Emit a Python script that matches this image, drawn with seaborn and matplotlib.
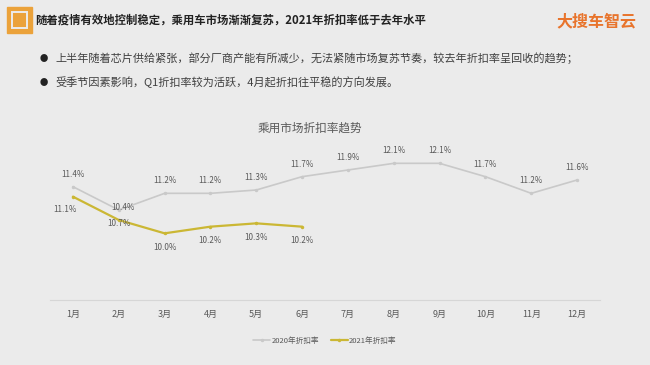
import numpy as np
import pandas as pd
import matplotlib
matplotlib.use("Agg")
import matplotlib.pyplot as plt
from matplotlib.patches import Rectangle
import seaborn as sns

# ---- data ----
months = ["1月", "2月", "3月", "4月", "5月", "6月",
          "7月", "8月", "9月", "10月", "11月", "12月"]
rate_2020 = [11.4, 10.7, 11.2, 11.2, 11.3, 11.7, 11.9, 12.1, 12.1, 11.7, 11.2, 11.6]
rate_2021 = [11.1, 10.4, 10.0, 10.2, 10.3, 10.2]
series_names = ["2020年折扣率", "2021年折扣率"]

header = "随着疫情有效地控制稳定，乘用车市场渐渐复苏，2021年折扣率低于去年水平"
bullets = [
    "上半年随着芯片供给紧张，部分厂商产能有所减少，无法紧随市场复苏节奏，较去年折扣率呈回收的趋势；",
    "受季节因素影响，Q1折扣率较为活跃，4月起折扣往平稳的方向发展。",
]
chart_title = "乘用市场折扣率趋势"
logo = "大搜车智云"

BG = "#ebebeb"
GRAY = "#c9c9c9"
YELLOW = "#cbb734"
TXT = "#595959"

sns.set_theme(style="white")
plt.rcParams["font.family"] = ["Noto Sans CJK SC", "DejaVu Sans"]

df = pd.DataFrame({
    "month": list(range(1, 13)) + list(range(1, len(rate_2021) + 1)),
    "rate": rate_2020 + rate_2021,
    "series": [series_names[0]] * 12 + [series_names[1]] * len(rate_2021),
})

fig = plt.figure(figsize=(6.5, 3.65), dpi=100, facecolor=BG)
ax = fig.add_axes([50 / 650, 65 / 365, 550 / 650, 160 / 365], facecolor=BG)

sns.lineplot(data=df, x="month", y="rate", hue="series",
             palette={series_names[0]: GRAY, series_names[1]: YELLOW},
             marker="o", markersize=2.5, markeredgewidth=0, ax=ax)
for ln, lw in zip(ax.lines, [1.2, 1.6]):
    ln.set_linewidth(lw)

ax.set_xlim(0.5, 12.5)
ax.set_ylim(8.0, 12.8)
ax.set_xticks(range(1, 13))
ax.set_xticklabels(months, fontsize=6.5, color=TXT)
ax.set_yticks([])
ax.set_xlabel("")
ax.set_ylabel("")
ax.tick_params(axis="x", length=0, pad=7)
for s in ["top", "left", "right"]:
    ax.spines[s].set_visible(False)
ax.spines["bottom"].set_color("#d6d6d6")
ax.spines["bottom"].set_linewidth(0.8)

# data labels (offsets in points)
off_2020 = [(0, 9)] * 12
off_2020[1] = (0, -10)
off_2021 = [(-6, -9), (3, 9), (0, -10), (0, -10), (0, -10), (0, -10)]
for i, v in enumerate(rate_2020):
    ax.annotate(f"{v:.1f}%", (i + 1, v), xytext=off_2020[i], textcoords="offset points",
                ha="center", va="center", fontsize=5.8, color=TXT)
for i, v in enumerate(rate_2021):
    ax.annotate(f"{v:.1f}%", (i + 1, v), xytext=off_2021[i], textcoords="offset points",
                ha="center", va="center", fontsize=5.8, color=TXT)

ax.get_legend().remove()
handles = ax.lines[:2]
fig.legend(handles, series_names, loc="center", bbox_to_anchor=(325 / 650, 1 - 341 / 365),
           ncol=2, frameon=False, fontsize=5.5, handlelength=2.2, handletextpad=0.2,
           columnspacing=1.5, labelcolor=TXT)

fig.text(310 / 650, 1 - 128 / 365, chart_title, ha="center", va="center",
         fontsize=8.4, color=TXT)

# header
fig.patches.append(Rectangle((7 / 650, 1 - 33 / 365), 25 / 650, 26 / 365,
                             transform=fig.transFigure, color="#eba23a"))
fig.patches.append(Rectangle((12 / 650, 1 - 28 / 365), 15 / 650, 16 / 365,
                             transform=fig.transFigure, fill=False, ec=BG, lw=1.4))
fig.text(35 / 650, 1 - 20 / 365, header, ha="left", va="center",
         fontsize=8.2, fontweight="bold", color="#222222")
fig.text(556 / 650, 1 - 21 / 365, logo, ha="left", va="center",
         fontsize=11.5, fontweight="bold", color="#e8742c")

for k, line in enumerate(bullets):
    y = 1 - (58 + 24 * k) / 365
    fig.text(44 / 650, y, "●", ha="center", va="center", fontsize=6, color="#222222")
    fig.text(55 / 650, y, line, ha="left", va="center", fontsize=8.0, color="#404040")

fig.savefig("out.png", dpi=100, facecolor=BG)
